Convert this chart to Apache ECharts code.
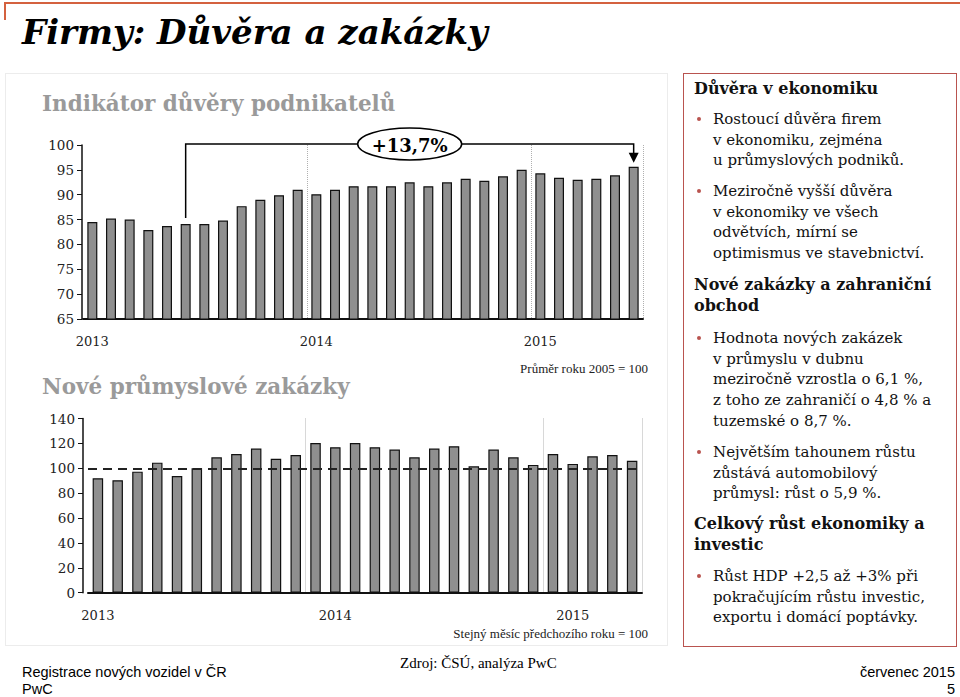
<!DOCTYPE html>
<html><head><meta charset="utf-8">
<script src="https://cdn.jsdelivr.net/npm/echarts@6/dist/echarts.min.js"></script>
<style>
html,body{margin:0;padding:0;background:#fff;width:960px;height:697px;overflow:hidden;}
body{position:relative;font-family:'DejaVu Serif',serif;color:#111;}
#chart{position:absolute;left:0;top:0;width:960px;height:697px;z-index:2;}
.abs{position:absolute;white-space:nowrap;z-index:3;}
#leftbox{position:absolute;left:5px;top:73px;width:661px;height:571px;border:1px solid #ececec;z-index:1;}
#rightbox{position:absolute;left:683px;top:73px;width:272px;height:572px;border:1.5px solid #b9534f;z-index:1;}
#topline{position:absolute;left:5px;top:2px;width:955px;height:0;border-top:2px solid #d4613f;z-index:1;}
#topv{position:absolute;left:4px;top:2px;width:0;height:18px;border-left:2px solid #d4613f;z-index:1;}
#title{left:22px;top:11px;font-family:'DejaVu Serif',serif;font-weight:bold;font-style:italic;font-size:34px;line-height:42px;color:#000;}
.h{font-family:'DejaVu Serif',serif;font-weight:bold;font-size:16px;line-height:20.7px;left:694px;color:#111;}
.b{font-family:'DejaVu Serif',serif;font-size:15px;line-height:20.7px;left:713px;color:#111;}
.dot{position:absolute;width:4px;height:4px;border-radius:2px;background:#b9534f;left:697px;z-index:3;}
.foot{font-family:'Liberation Sans',Arial,sans-serif;font-size:14.5px;line-height:16.5px;color:#000;}
</style></head>
<body>
<div id="topline"></div><div id="topv"></div>
<div id="leftbox"></div><div id="rightbox"></div>
<div class="abs" id="title">Firmy: Důvěra a zakázky</div>

<div class="abs h" style="top:79px">Důvěra v ekonomiku</div>
<div class="dot" style="top:117px"></div>
<div class="abs b" style="top:109px">Rostoucí důvěra firem<br>v ekonomiku, zejména<br>u průmyslových podniků.</div>
<div class="dot" style="top:189px"></div>
<div class="abs b" style="top:181px">Meziročně vyšší důvěra<br>v ekonomiky ve všech<br>odvětvích, mírní se<br>optimismus ve stavebnictví.</div>
<div class="abs h" style="top:275px">Nové zakázky a zahraniční<br>obchod</div>
<div class="dot" style="top:336px"></div>
<div class="abs b" style="top:328px">Hodnota nových zakázek<br>v průmyslu v dubnu<br>meziročně vzrostla o 6,1 %,<br>z toho ze zahraničí o 4,8 % a<br>tuzemské o 8,7 %.</div>
<div class="dot" style="top:450px"></div>
<div class="abs b" style="top:442px">Největším tahounem růstu<br>zůstává automobilový<br>průmysl: růst o 5,9 %.</div>
<div class="abs h" style="top:514px">Celkový růst ekonomiky a<br>investic</div>
<div class="dot" style="top:574px"></div>
<div class="abs b" style="top:566px">Růst HDP +2,5 až +3% při<br>pokračujícím růstu investic,<br>exportu i domácí poptávky.</div>

<div class="abs foot" style="left:22px;top:664px">Registrace nových vozidel v ČR<br>PwC</div>
<div class="abs foot" style="left:400px;top:655px;font-family:'Liberation Serif',serif;font-size:15px;">Zdroj: ČSÚ, analýza PwC</div>
<div class="abs foot" style="right:5px;top:664px;text-align:right">červenec 2015<br>5</div>

<div id="chart"></div>
<script>
// ---- data ----
const confMonths = ['2013-01','2013-02','2013-03','2013-04','2013-05','2013-06','2013-07','2013-08','2013-09','2013-10','2013-11','2013-12',
  '2014-01','2014-02','2014-03','2014-04','2014-05','2014-06','2014-07','2014-08','2014-09','2014-10','2014-11','2014-12',
  '2015-01','2015-02','2015-03','2015-04','2015-05','2015-06'];
const confValues = [84.5, 85.2, 85.0, 82.9, 83.7, 84.1, 84.1, 84.8, 87.7, 89.0, 89.9, 91.0,
  90.1, 91.0, 91.7, 91.7, 91.7, 92.5, 91.7, 92.5, 93.2, 92.8, 93.7, 95.0,
  94.3, 93.4, 93.0, 93.2, 93.9, 95.6];
const orderMonths = ['2013-01','2013-02','2013-03','2013-04','2013-05','2013-06','2013-07','2013-08','2013-09','2013-10','2013-11','2013-12',
  '2014-01','2014-02','2014-03','2014-04','2014-05','2014-06','2014-07','2014-08','2014-09','2014-10','2014-11','2014-12',
  '2015-01','2015-02','2015-03','2015-04'];
const orderValues = [92.0, 90.4, 97.3, 104.5, 93.8, 100.0, 108.8, 111.5, 115.8, 107.7, 110.7,
  120.3, 116.9, 120.3, 116.9, 115.0, 108.8, 115.8, 117.7, 101.6, 115.0, 108.8, 102.7,
  111.5, 103.5, 109.6, 110.7, 106.1];
const confDividers = [12, 24];   // category boundaries with dotted year dividers
const orderDividers = [11, 23];
const orderBaseline = 100;
const annStart = 5, annEnd = 29, annLabelIdx = 17;
const annLabel = '+13,7%';

const serif = 'DejaVu Serif';
const barStyle = {color:'#8f8f8f', borderColor:'#111', borderWidth:1.2};

function xAxisCfg(grid, cats, dividers){
  return {type:'category', gridIndex:grid, data:cats, boundaryGap:true,
    axisLine:{lineStyle:{color:'#111', width:2}},
    axisTick:{show:false},
    axisLabel:{interval:11, margin:16, color:'#222', fontFamily:serif, fontSize:13,
      formatter:v=>v.slice(0,4)},
    splitLine:{show:true, interval:(i)=>dividers.indexOf(i)>=0,
      lineStyle:{color:'#b0b0b0', type:'dotted', width:1}}};
}
function yAxisCfg(grid, min, max, interval, offset){
  return {type:'value', gridIndex:grid, min, max, interval, offset,
    axisLine:{show:true, lineStyle:{color:'#111', width:1.5}},
    axisTick:{show:true, length:5, lineStyle:{color:'#111'}},
    splitLine:{show:false},
    axisLabel:{color:'#222', fontFamily:serif, fontSize:13.5, margin:8}};
}

const chart = echarts.init(document.getElementById('chart'), null, {renderer:'svg'});
chart.setOption({
  animation:false,
  backgroundColor:'transparent',
  title:[
    {text:'Indikátor důvěry podnikatelů', left:42, top:91, padding:0,
      textStyle:{fontFamily:serif, fontWeight:'bold', fontSize:21.5, lineHeight:25, color:'#9a9a9a'}},
    {text:'Nové průmyslové zakázky', left:42, top:374, padding:0,
      textStyle:{fontFamily:serif, fontWeight:'bold', fontSize:21.5, lineHeight:25, color:'#9a9a9a'}},
    {text:'Průměr roku 2005 = 100', right:312, top:361, padding:0,
      textStyle:{fontFamily:'Liberation Serif', fontWeight:'normal', fontSize:13, lineHeight:15, color:'#222'}},
    {text:'Stejný měsíc předchozího roku = 100', right:312, top:626, padding:0,
      textStyle:{fontFamily:'Liberation Serif', fontWeight:'normal', fontSize:13, lineHeight:15, color:'#222'}}
  ],
  grid:[
    {left:83, right:317, top:145, bottom:378},
    {left:88, right:318, top:418.5, bottom:104.3}
  ],
  xAxis:[xAxisCfg(0, confMonths, confDividers), xAxisCfg(1, orderMonths, orderDividers)],
  yAxis:[yAxisCfg(0, 65, 100, 5, 1), yAxisCfg(1, 0, 140, 20, 5)],
  series:[
    {type:'bar', xAxisIndex:0, yAxisIndex:0, data:confValues, barWidth:10, itemStyle:barStyle},
    {type:'bar', xAxisIndex:1, yAxisIndex:1, data:orderValues, barWidth:10.5, itemStyle:barStyle,
      markLine:{silent:true, symbol:'none', label:{show:false},
        lineStyle:{color:'#222', type:[9,6], width:1.8},
        data:[{yAxis:orderBaseline}]}}
  ]
});

// annotation bracket anchored to data points
const p0 = chart.convertToPixel({gridIndex:0}, [annStart, confValues[annStart]]);
const p1 = chart.convertToPixel({gridIndex:0}, [annEnd, confValues[annEnd]]);
const topY = chart.convertToPixel({gridIndex:0}, [0, 100])[1] - 1;
const pm = chart.convertToPixel({gridIndex:0}, [annLabelIdx, 100]);
chart.setOption({graphic:[
  {type:'polyline', z:10, shape:{points:[[p0[0], p0[1]-6],[p0[0], topY],[p1[0], topY],[p1[0], p1[1]-13]]},
    style:{stroke:'#000', lineWidth:1.5, fill:null}},
  {type:'polygon', z:10, shape:{points:[[p1[0]-5, p1[1]-14],[p1[0]+5, p1[1]-14],[p1[0], p1[1]-4]]},
    style:{fill:'#000'}},
  {type:'ellipse', z:11, shape:{cx:pm[0], cy:topY, rx:52, ry:16},
    style:{fill:'#fff', stroke:'#000', lineWidth:1.5}},
  {type:'text', z:12, x:pm[0], y:topY+1, style:{text:annLabel, font:'bold 18px "DejaVu Serif"', fill:'#000', align:'center', verticalAlign:'middle'}}
]});
</script>
</body></html>
